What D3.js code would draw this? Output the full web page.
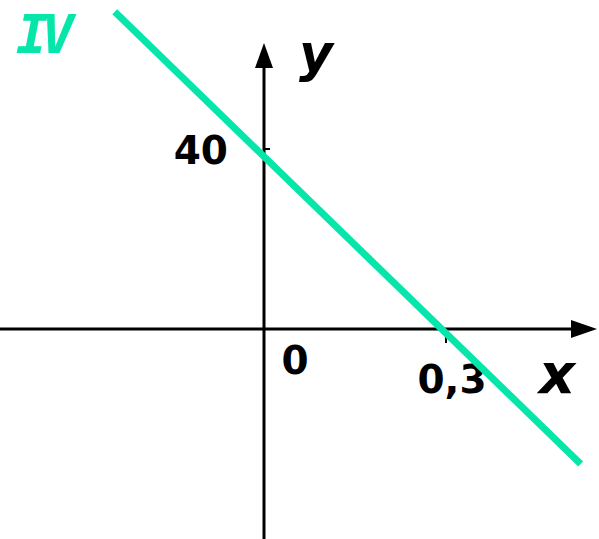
<!DOCTYPE html>
<html>
<head>
<meta charset="utf-8">
<script src="https://cdn.jsdelivr.net/npm/d3@7"></script>
<style>
  html, body { margin: 0; padding: 0; background: #fff; }
  svg { display: block; }
  text { font-family: "DejaVu Sans", Verdana, sans-serif; }
</style>
</head>
<body>
<div id="chart"></div>
<script>
// --- Data ---
const X_TICKS = [0.3];
const X_TICK_LABELS = ['0,3'];
const Y_TICKS = [40];
const Y_TICK_LABELS = ['40'];
const LINE_POINTS = [
    { x: -0.246, y: 70.5 },
    { x: 0.522, y: -30.0 }
];
const LINE_LABEL = 'IV';

const W = 599, H = 539;
const INK = '#000';
const GREEN = '#06e6aa';

const svg = d3.select('#chart').append('svg')
    .attr('width', W).attr('height', H);

// Scales (origin at 264, 329)
const x = d3.scaleLinear().domain([0, 0.3]).range([264, 446]);
const y = d3.scaleLinear().domain([0, 40]).range([329, 149]);

// --- Axes ---
const x0 = x(0), y0 = y(0);
const axis = svg.append('g').attr('stroke', INK).attr('stroke-width', 3);
axis.append('line').attr('x1', 0).attr('y1', y0).attr('x2', 572).attr('y2', y0);
axis.append('line').attr('x1', x0).attr('y1', H).attr('x2', x0).attr('y2', 67);

// arrow heads
svg.append('path')
    .attr('d', `M597,${y0} L571,${y0 - 9} L571,${y0 + 9} Z`)
    .attr('fill', INK);
svg.append('path')
    .attr('d', `M${x0},43 L${x0 - 9},68 L${x0 + 9},68 Z`)
    .attr('fill', INK);

// ticks
X_TICKS.forEach(t => {
    svg.append('line').attr('x1', x(t)).attr('x2', x(t))
        .attr('y1', y0).attr('y2', y0 + 14)
        .attr('stroke', INK).attr('stroke-width', 2);
});
Y_TICKS.forEach(t => {
    svg.append('line').attr('x1', x0).attr('x2', x0 + 6)
        .attr('y1', y(t)).attr('y2', y(t))
        .attr('stroke', INK).attr('stroke-width', 2);
});

// tick labels
svg.append('text').attr('x', x0 + 31).attr('y', 374)
    .attr('text-anchor', 'middle')
    .style('font-size', '39px').style('font-weight', 'bold')
    .text('0');
X_TICKS.forEach((t, i) => {
    svg.append('text').attr('x', x(t) + 6).attr('y', 393)
        .attr('text-anchor', 'middle')
        .style('font-size', '39px').style('font-weight', 'bold')
        .text(X_TICK_LABELS[i]);
});
Y_TICKS.forEach((t, i) => {
    svg.append('text').attr('x', 228).attr('y', y(t) + 15)
        .attr('text-anchor', 'end')
        .style('font-size', '39px').style('font-weight', 'bold')
        .text(Y_TICK_LABELS[i]);
});

// axis names
svg.append('text').attr('x', 557).attr('y', 393)
    .attr('text-anchor', 'middle')
    .style('font-size', '56px').style('font-weight', 'bold').style('font-style', 'italic')
    .text('x');
svg.append('text').attr('x', 316).attr('y', 71)
    .attr('text-anchor', 'middle')
    .style('font-size', '52px').style('font-weight', 'bold').style('font-style', 'italic')
    .text('y');

// --- Line IV ---
const line = d3.line().x(d => x(d.x)).y(d => y(d.y));
svg.append('path').datum(LINE_POINTS)
    .attr('d', line)
    .attr('fill', 'none')
    .attr('stroke', GREEN)
    .attr('stroke-width', 7);

svg.append('text').attr('x', 16).attr('y', 53)
    .style('font-family', '"DejaVu Sans Mono", monospace')
    .style('font-size', '54px').style('font-style', 'italic').style('font-weight', 'bold')
    .style('letter-spacing', '-7px')
    .attr('fill', GREEN)
    .text(LINE_LABEL);
</script>
</body>
</html>
